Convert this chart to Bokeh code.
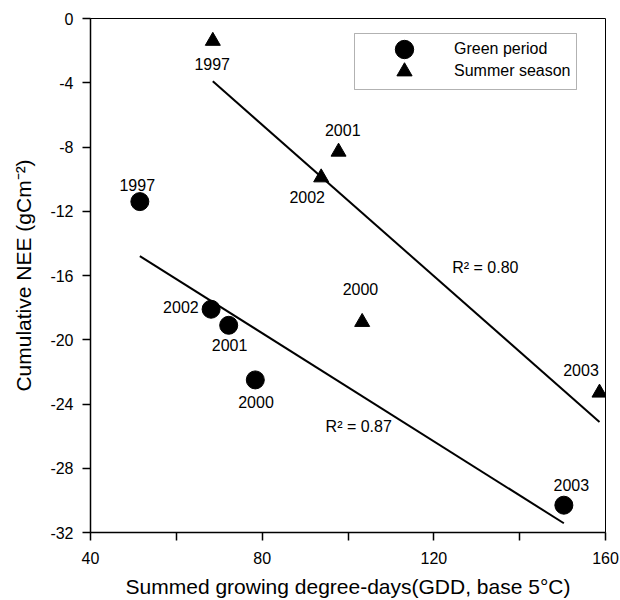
import numpy as np
from bokeh.plotting import figure
from bokeh.models import (ColumnDataSource, Range1d, FixedTicker, Legend,
                          LegendItem, BoxAnnotation, Label)
from bokeh.embed import file_html
from bokeh.resources import INLINE
from bokeh.core.properties import value

# ---------------- data ----------------
years_green = ["1997", "2002", "2001", "2000", "2003"]
gdd_green = [51.5, 68.1, 72.2, 78.4, 150.3]
nee_green = [-11.4, -18.1, -19.1, -22.5, -30.3]

years_summer = ["1997", "2001", "2002", "2000", "2003"]
gdd_summer = [68.5, 97.8, 93.75, 103.3, 158.6]
nee_summer = [-1.4, -8.3, -9.9, -18.9, -23.3]

series_names = ["Green period", "Summer season"]
r2_texts = ["R\u00b2 = 0.87", "R\u00b2 = 0.80"]

x_ticks = [40, 80, 120, 160]
x_minor_ticks = [60, 100, 140]
y_ticks = [-32, -28, -24, -20, -16, -12, -8, -4, 0]
y_tick_labels = ["-32", "-28", "-24", "-20", "-16", "-12", "-8", "-4", "0"]

x_label = "Summed growing degree-days(GDD, base 5\u00b0C)"
y_label = "Cumulative NEE (gCm\u207b\u00b2)"

# ---------------- style / placement ----------------
FONT = "Liberation Sans"
green_dx = [-2.6, -30.2, 0.9, 0.7, 7.5]
green_dy = [-16.7, -1.8, 20.2, 21.8, -20.0]
summer_dx = [-0.6, 4.2, -14.0, -1.7, -18.5]
summer_dy = [22.7, -21.8, 19.3, -32.6, -22.6]
r2_pos = [(102.5, -25.4), (132.0, -15.5)]

p = figure(width=620, height=600, output_backend="svg", toolbar_location=None,
           x_range=Range1d(40, 160), y_range=Range1d(-32, 0),
           min_border_left=90, min_border_right=15, min_border_top=18,
           min_border_bottom=67)
p.background_fill_color = "white"
p.border_fill_color = "white"
p.xgrid.visible = False
p.ygrid.visible = False
p.outline_line_color = "black"
p.outline_line_width = 1

for ax in (p.xaxis[0], p.yaxis[0]):
    ax.axis_line_color = "black"
    ax.axis_line_width = 1.5
    ax.major_tick_line_color = "black"
    ax.major_tick_line_width = 1.5
    ax.major_tick_in = 0
    ax.major_tick_out = 8
    ax.minor_tick_line_color = "black"
    ax.minor_tick_line_width = 1.5
    ax.minor_tick_in = 0
    ax.minor_tick_out = 8
    ax.major_label_text_font = FONT
    ax.major_label_text_font_size = "16px"
    ax.major_label_text_color = "black"
    ax.axis_label_text_font = FONT
    ax.axis_label_text_font_size = "21px"
    ax.axis_label_text_font_style = "normal"
    ax.axis_label_text_color = "black"

p.xaxis.ticker = FixedTicker(ticks=x_ticks, minor_ticks=x_minor_ticks)
p.yaxis.ticker = FixedTicker(ticks=y_ticks)
p.yaxis.major_label_overrides = dict(zip(y_ticks, y_tick_labels))
p.xaxis.axis_label = x_label
p.yaxis.axis_label = y_label
p.xaxis.major_label_standoff = 11
p.yaxis.major_label_standoff = 9
p.xaxis.axis_label_standoff = 8
p.yaxis.axis_label_standoff = 12

# regression lines computed from the data
for gx, gy in ((gdd_green, nee_green), (gdd_summer, nee_summer)):
    k, b = np.polyfit(gx, gy, 1)
    xs = np.array([min(gx), max(gx)])
    p.line(xs, k * xs + b, line_color="black", line_width=2)

src_g = ColumnDataSource(dict(x=gdd_green, y=nee_green, t=years_green,
                              dx=green_dx, dy=green_dy))
src_s = ColumnDataSource(dict(x=gdd_summer, y=nee_summer, t=years_summer,
                              dx=summer_dx, dy=summer_dy))

rg = p.scatter("x", "y", source=src_g, marker="circle", size=18,
               fill_color="black", line_color="black")
rs = p.scatter("x", "y", source=src_s, marker="triangle", size=15,
               fill_color="black", line_color="black")

for src in (src_g, src_s):
    p.text("x", "y", text="t", source=src, x_offset="dx", y_offset="dy",
           text_font=value(FONT), text_font_size="16px", text_color="black",
           text_align="center", text_baseline="middle")

for txt, (lx, ly) in zip(r2_texts, r2_pos):
    p.add_layout(Label(x=lx, y=ly, text=txt, text_font=FONT,
                       text_font_size="16px", text_color="black",
                       text_align="center", text_baseline="middle"))

# legend: border box + two single-item legends for larger markers
p.add_layout(BoxAnnotation(left=354, right=576, top=33, bottom=89,
                           left_units="canvas", right_units="canvas",
                           top_units="canvas", bottom_units="canvas",
                           fill_alpha=0, line_color="black", line_width=1,
                           level="overlay"))

leg1 = Legend(items=[LegendItem(label=series_names[0], renderers=[rg])],
              location=(291, 460), glyph_width=46, glyph_height=46,
              label_standoff=27, padding=0, spacing=0, margin=0,
              border_line_alpha=0, background_fill_alpha=0,
              label_text_font=FONT, label_text_font_size="16px",
              label_text_color="black")
leg2 = Legend(items=[LegendItem(label=series_names[1], renderers=[rs])],
              location=(295, 442), glyph_width=38, glyph_height=38,
              label_standoff=31, padding=0, spacing=0, margin=0,
              border_line_alpha=0, background_fill_alpha=0,
              label_text_font=FONT, label_text_font_size="16px",
              label_text_color="black")
p.add_layout(leg1, "center")
p.add_layout(leg2, "center")

open("out.html", "w").write(file_html(p, INLINE))
